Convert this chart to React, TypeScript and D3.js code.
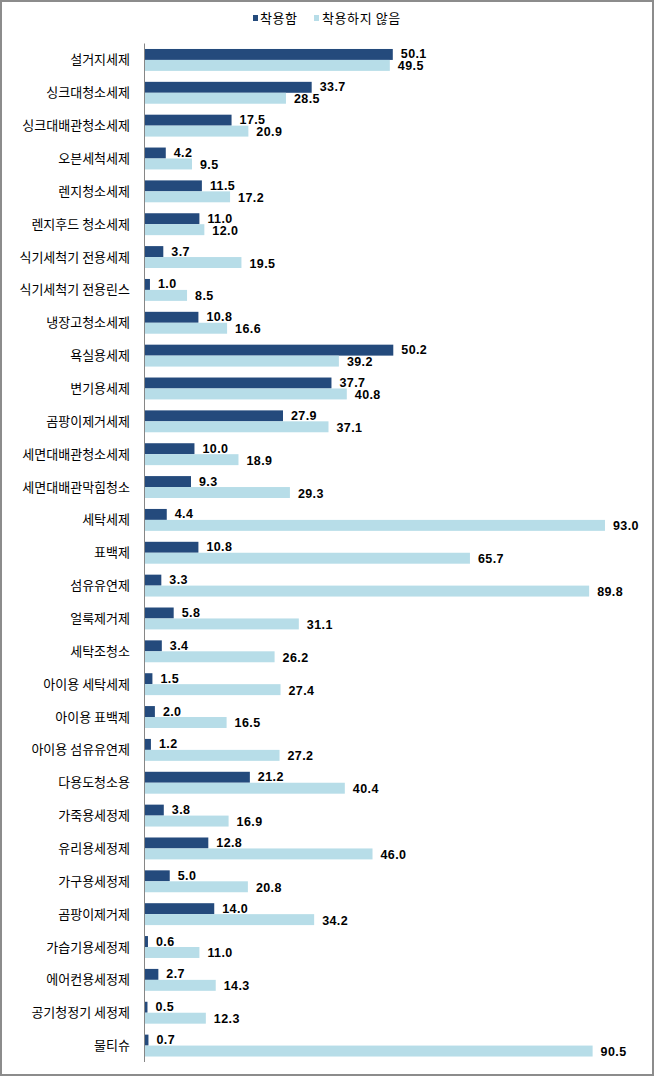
import React from "react";
import * as d3 from "d3";

const categories: string[] = [
  "설거지세제", "싱크대청소세제", "싱크대배관청소세제", "오븐세척세제", "렌지청소세제",
  "렌지후드 청소세제", "식기세척기 전용세제", "식기세척기 전용린스", "냉장고청소세제", "욕실용세제",
  "변기용세제", "곰팡이제거세제", "세면대배관청소세제", "세면대배관막힘청소", "세탁세제",
  "표백제", "섬유유연제", "얼룩제거제", "세탁조청소", "아이용 세탁세제",
  "아이용 표백제", "아이용 섬유유연제", "다용도청소용", "가죽용세정제", "유리용세정제",
  "가구용세정제", "곰팡이제거제", "가습기용세정제", "에어컨용세정제", "공기청정기 세정제",
  "물티슈",
];

const wearing: number[] = [
  50.1, 33.7, 17.5, 4.2, 11.5, 11.0, 3.7, 1.0, 10.8, 50.2,
  37.7, 27.9, 10.0, 9.3, 4.4, 10.8, 3.3, 5.8, 3.4, 1.5,
  2.0, 1.2, 21.2, 3.8, 12.8, 5.0, 14.0, 0.6, 2.7, 0.5, 0.7,
];

const notWearing: number[] = [
  49.5, 28.5, 20.9, 9.5, 17.2, 12.0, 19.5, 8.5, 16.6, 39.2,
  40.8, 37.1, 18.9, 29.3, 93.0, 65.7, 89.8, 31.1, 26.2, 27.4,
  16.5, 27.2, 40.4, 16.9, 46.0, 20.8, 34.2, 11.0, 14.3, 12.3, 90.5,
];

const seriesNames: string[] = ["착용함", "착용하지 않음"];
const seriesColors: string[] = ["#244A7C", "#B7DDE8"];

const W = 655;
const H = 1077;

export default function App() {
  const x = d3.scaleLinear().domain([0, 100]).range([145, 639.6]);
  const y = d3.scaleBand<string>().domain(categories).range([43.5, 1062]).padding(0);
  const sub = d3
    .scaleBand<string>()
    .domain(["0", "1"])
    .range([0, y.bandwidth()])
    .paddingInner(0)
    .paddingOuter(0.5);
  const series = [wearing, notWearing];
  const korFont = "'Noto Sans CJK KR', 'Noto Sans', sans-serif";
  const numFont = "'Liberation Sans', Arial, sans-serif";

  return (
    <div style={{ position: "absolute", left: 0, top: 0 }}>
      <svg width={W} height={H} style={{ display: "block", background: "#fff" }}>
        <rect x={1} y={1} width={W - 3} height={H - 3} fill="#fff" stroke="#8c8c8c" strokeWidth={2} />
        {/* legend */}
        <g>
          <rect x={253} y={15} width={5} height={6} fill={seriesColors[0]} />
          <text x={260} y={22.5} fontFamily={korFont} fontSize={13} fill="#000" letterSpacing={0.6}>
            {seriesNames[0]}
          </text>
          <rect x={314} y={15} width={5} height={6} fill={seriesColors[1]} />
          <text x={322} y={22.5} fontFamily={korFont} fontSize={13} fill="#000" letterSpacing={0.6} xmlSpace="preserve">
            {seriesNames[1]}
          </text>
        </g>
        {/* bars */}
        {categories.map((c, i) => (
          <g key={c} transform={`translate(0,${y(c)})`}>
            {series.map((s, k) => {
              const y0 = sub(String(k)) as number;
              const bh = sub.bandwidth();
              const v = s[i];
              return (
                <g key={k}>
                  <rect x={x(0)} y={y0} width={x(v) - x(0)} height={bh} fill={seriesColors[k]} />
                  <text
                    x={x(v) + 8}
                    y={y0 + bh / 2 + (k === 0 ? 4 : 5)}
                    fontFamily={numFont}
                    fontWeight="bold"
                    fontSize={12.5}
                    fill="#000"
                    letterSpacing={0.4}
                  >
                    {v.toFixed(1)}
                  </text>
                </g>
              );
            })}
            <text
              x={130}
              y={y.bandwidth() / 2 + 4.5}
              textAnchor="end"
              fontFamily={korFont}
              fontSize={13}
              fill="#000"
            >
              {c}
            </text>
          </g>
        ))}
        {/* axis */}
        <line x1={x(0) - 0.5} x2={x(0) - 0.5} y1={43.5} y2={1062} stroke="#868686" strokeWidth={1} />
      </svg>
    </div>
  );
}
